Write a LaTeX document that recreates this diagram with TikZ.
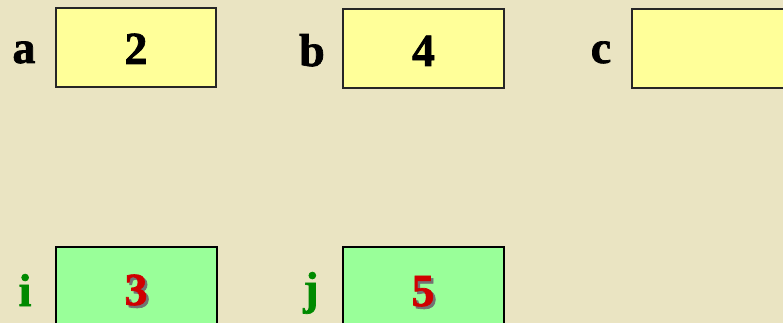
\documentclass[tikz,border=0pt]{standalone}
\usepackage{fontspec}
\setmainfont{Liberation Serif}
\font\lblfont="Liberation Serif/B:embolden=1.5" at 46pt
\definecolor{bg}{HTML}{EAE4C2}
\definecolor{yel}{HTML}{FFFF99}
\definecolor{grn}{HTML}{99FF99}
\definecolor{lblgreen}{HTML}{008A00}
\definecolor{numred}{HTML}{D00000}
\newcommand{\shadnum}[1]{\rlap{\hspace{2.5pt}\raisebox{-2.5pt}{\textcolor{black!55}{#1}}}\textcolor{numred}{#1}}
\begin{document}
\begin{tikzpicture}[x=1pt,y=-1pt,
  ybox/.style={draw=black!85,line width=1.8pt,fill=yel},
  gbox/.style={draw=black,line width=2.6pt,fill=grn},
  lbl/.style={anchor=base,inner sep=0pt,font=\lblfont},
  glbl/.style={lbl,text=lblgreen}]
\fill[bg] (0,0) rectangle (783,323);
\useasboundingbox (0,0) rectangle (783,323);
\clip (0,0) rectangle (783,323);
% yellow boxes
\path[ybox] (56,8) rectangle (216,87);
\path[ybox] (343,9) rectangle (504,88);
\path[ybox] (632,9) rectangle (800,88);
% green boxes
\path[gbox] (56,247) rectangle (217,340);
\path[gbox] (343,247) rectangle (504,340);
% labels
\node[lbl] (la) at (24,63) {a};
\node[lbl] (lb) at (312,66) {b};
\node[lbl] (lc) at (601,63) {c};
\node[glbl] (li) at (25,306) {i};
\node[glbl] (lj) at (311,304) {j};
% numbers
\node[lbl] (na) at (136,64) {2};
\node[lbl] (nb) at (423.5,66) {4};
\node[lbl] (ni) at (136,305) {\shadnum{3}};
\node[lbl] (nj) at (423,306) {\shadnum{5}};
\end{tikzpicture}
\end{document}
